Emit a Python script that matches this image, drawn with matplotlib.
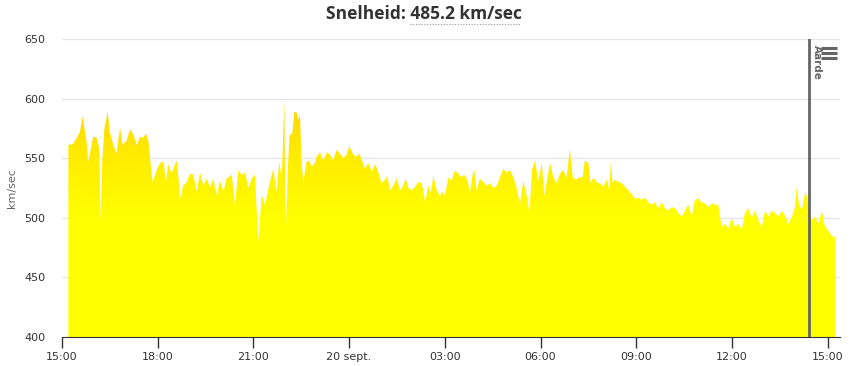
import matplotlib.pyplot as plt
import numpy as np
from matplotlib.colors import LinearSegmentedColormap

# Data (uren sinds 15:00, snelheid km/sec)
hours = [
    0.20, 0.35, 0.46, 0.56, 0.65, 0.72, 0.77, 0.82, 0.93, 0.98, 1.09, 1.17, 1.21, 1.26, 1.33,
    1.43, 1.50, 1.61, 1.71, 1.82, 1.90, 2.03, 2.13, 2.24, 2.34, 2.45, 2.55, 2.63, 2.71, 2.76,
    2.84, 2.97, 3.07, 3.18, 3.26, 3.33, 3.44, 3.54, 3.61, 3.70, 3.80, 3.91,
    4.01, 4.12, 4.22, 4.33, 4.43, 4.54, 4.64, 4.74, 4.85, 4.95, 5.06, 5.16, 5.32, 5.42, 5.53,
    5.63, 5.74, 5.84, 5.95, 6.05, 6.15, 6.26, 6.36, 6.52, 6.62, 6.73, 6.81, 6.89, 6.97, 7.01,
    7.08, 7.13, 7.22, 7.28, 7.36, 7.41, 7.46, 7.51, 7.56, 7.67, 7.74, 7.83,
    7.93, 7.98, 8.09, 8.19, 8.30, 8.40, 8.50, 8.61, 8.71, 8.82, 8.92, 9.01, 9.11, 9.22, 9.32,
    9.43, 9.50, 9.60, 9.71, 9.81, 9.92, 10.02, 10.13, 10.20, 10.28, 10.39, 10.49, 10.60, 10.70,
    10.77, 10.86, 10.96, 11.07, 11.17, 11.28, 11.38, 11.48, 11.56, 11.64, 11.75,
    11.85, 11.90, 12.01, 12.11, 12.22, 12.30, 12.40, 12.51, 12.61, 12.72, 12.79, 12.86, 12.92,
    13.00, 13.10, 13.21, 13.31, 13.42, 13.52, 13.63, 13.73, 13.83, 13.94, 14.04, 14.15, 14.25,
    14.36, 14.46, 14.57, 14.65, 14.74, 14.83, 14.93, 15.04, 15.12, 15.19, 15.30, 15.40, 15.51,
    15.61, 15.72, 15.82, 15.92, 16.01, 16.11, 16.22, 16.32, 16.39, 16.50, 16.57, 16.66, 16.76,
    16.87, 16.97, 17.08, 17.16, 17.21, 17.26, 17.34, 17.44, 17.55, 17.65, 17.75, 17.86, 17.96,
    18.07, 18.17, 18.28, 18.38, 18.49, 18.59, 18.69, 18.80, 18.90, 19.01, 19.11, 19.22, 19.32,
    19.43, 19.53, 19.63, 19.74,
    19.84, 19.95, 20.05, 20.16, 20.26, 20.37, 20.47, 20.57, 20.68, 20.78, 20.89, 20.99, 21.10,
    21.20, 21.31, 21.41, 21.51, 21.62, 21.72, 21.83, 21.93, 22.04, 22.14, 22.25, 22.35, 22.46,
    22.56, 22.66, 22.77, 22.87, 22.98, 23.03, 23.10, 23.19, 23.30, 23.34, 23.40, 23.50, 23.61,
    23.71, 23.82, 23.90, 23.97, 24.08, 24.18, 24.23,
]
speed = [
    561, 562, 567, 572, 585, 572, 564, 547, 561, 568, 567, 558, 497, 547, 575,
    589, 572, 561, 554, 576, 561, 565, 574, 570, 561, 568, 567, 571, 564, 550,
    530, 540, 546, 547, 530, 545, 537, 545, 548, 516, 527, 530,
    537, 536, 522, 538, 527, 533, 525, 533, 519, 531, 522, 533, 536, 511, 540,
    536, 538, 525, 533, 536, 480, 519, 511, 530, 541, 522, 547, 533, 598, 483,
    541, 569, 571, 589, 588, 582, 587, 547, 530, 547, 548, 543,
    546, 551, 555, 548, 555, 553, 548, 557, 554, 550, 553, 560, 554, 551, 554,
    546, 541, 546, 539, 545, 538, 529, 532, 535, 523, 527, 533, 523, 527,
    533, 525, 523, 526, 530, 529, 513, 527, 521, 535, 523,
    518, 522, 519, 534, 531, 539, 538, 534, 536, 531, 521, 534, 541,
    523, 533, 530, 527, 529, 525, 527, 534, 541, 538, 540, 534, 525,
    512, 531, 518, 504, 541, 548, 531, 546, 518, 530, 546, 534, 529,
    537, 540, 534, 558, 534, 532, 534, 534, 548, 546, 529, 534, 530,
    529, 526, 532, 523, 548, 529, 532, 530, 529, 526, 523, 520, 516,
    517, 515, 517, 513, 511, 513, 508, 513, 508, 506, 509, 508, 504,
    501, 506, 511, 501,
    515, 516, 513, 512, 509, 512, 511, 511, 492, 495, 491, 500, 492,
    495, 490, 504, 508, 500, 506, 498, 492, 506, 501, 506, 504, 501,
    506, 502, 495, 500, 509, 526, 512, 506, 522, 519, 509, 498, 501,
    495, 506, 494, 491, 487, 483, 485,
]
tick_hours = [0, 3, 6, 9, 12, 15, 18, 21, 24]
tick_labels = ["15:00", "18:00", "21:00", "20 sept.", "03:00", "06:00", "09:00", "12:00", "15:00"]
earth_hour = 23.42

W, H = 851, 366
fig = plt.figure(figsize=(W / 100, H / 100), dpi=100)
ax = fig.add_axes([62 / W, (H - 337) / H, 778 / W, 298 / H])

xmax = 778 / 31.9
ax.set_xlim(0, xmax)
ax.set_ylim(400, 650)

# Gradient-vlak (goud bovenaan, geel onderaan)
poly = ax.fill_between(hours, speed, 400, color='none', lw=0)
cmap = LinearSegmentedColormap.from_list('sun', [(0, '#ffff00'), (0.5, '#ffff00'), (0.78, '#ffea00'), (1, '#ffd400')])
grad = np.linspace(0, 1, 256).reshape(-1, 1)
im = ax.imshow(grad, extent=[0, xmax, 400, 600], origin='lower', aspect='auto',
               cmap=cmap, zorder=2)
im.set_clip_path(poly.get_paths()[0], transform=ax.transData)
ax.set_xlim(0, xmax)
ax.set_ylim(400, 650)

# Grid en assen
ax.set_yticks([400, 450, 500, 550, 600, 650])
ax.grid(axis='y', color='#e6e6e6', lw=1, zorder=0)
ax.set_axisbelow(True)
for s in ['top', 'right', 'left']:
    ax.spines[s].set_visible(False)
ax.spines['bottom'].set_color('#333333')
ax.spines['bottom'].set_zorder(5)
ax.tick_params(axis='y', length=0, pad=12, labelsize=8, labelcolor='#333333')
ax.tick_params(axis='x', length=8, width=1, color='#333333', pad=3, labelsize=8, labelcolor='#333333')
ax.set_xticks(tick_hours)
ax.set_xticklabels(tick_labels)
fig.text(12 / W, 1 - 188 / H, "km/sec", rotation=90, ha='center', va='center',
         fontsize=8, color='#666666')

# Verticale lijn Aarde
ax.axvline(earth_hour, color='#666666', lw=2, zorder=4)
ax.text(earth_hour + 0.1, 645, "Aarde", rotation=-90, ha='left', va='top', fontsize=7.5,
        fontweight='bold', color='#666666', zorder=5)

# Menu-icoon
for yy in [47.5, 52.5, 57.5]:
    fig.add_artist(plt.Line2D([821 / W, 837 / W], [1 - yy / H, 1 - yy / H], color='#666666',
                              lw=2.2, solid_capstyle='butt'))

# Titel
title = fig.text(0.5 - 2 / W, 1 - 14 / H, "Snelheid: 485.2 km/sec", ha='center', va='center',
                 fontsize=12.5, fontweight='bold', color='#333333', family='Open Sans')
fig.canvas.draw()
r = fig.canvas.get_renderer()
bb = title.get_window_extent(r)
tmp = fig.text(0, 0, "485.2 km/sec", fontsize=12.5, fontweight='bold', family='Open Sans')
wpart = tmp.get_window_extent(r).width
tmp.remove()
fig.add_artist(plt.Line2D([(bb.x1 - wpart) / W, bb.x1 / W], [1 - 24 / H, 1 - 24 / H],
                          color='#999999', lw=0.8, ls=(0, (1, 1.5))))

fig.savefig("out.png", dpi=100)
